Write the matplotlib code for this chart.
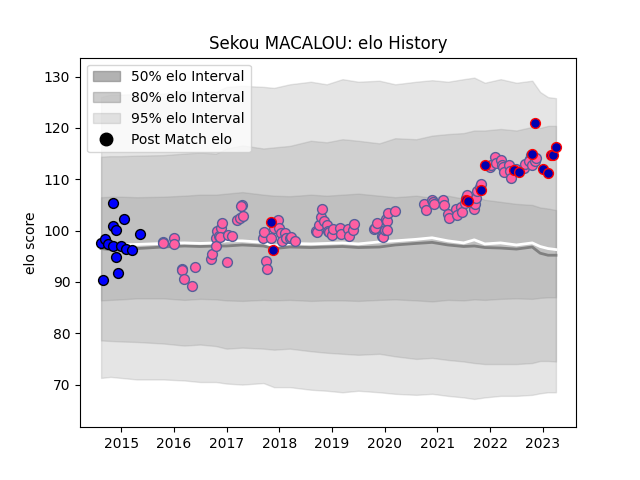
import matplotlib
matplotlib.use("Agg")
import matplotlib.pyplot as plt
import numpy as np
from matplotlib.patches import Patch
from matplotlib.lines import Line2D

# band / line time grid (decimal years)
band_t = [2014.62, 2014.8, 2015.0, 2015.3, 2015.8, 2016.2, 2016.5, 2016.8, 2017.0, 2017.3, 2017.7,
          2017.9, 2018.2, 2018.6, 2018.9, 2019.2, 2019.5, 2019.9, 2020.2, 2020.6, 2020.9, 2021.2,
          2021.5, 2021.7, 2021.9, 2022.2, 2022.5, 2022.8, 2022.95, 2023.1, 2023.25]
mean_line = [97.6, 97.3, 97.2, 97.3, 97.5, 97.6, 97.5, 97.6, 98.0, 98.0, 97.7,
             97.0, 97.5, 97.4, 97.5, 97.6, 97.4, 97.8, 98.0, 98.3, 98.6, 98.0,
             97.6, 98.2, 97.4, 97.6, 97.2, 97.6, 96.9, 96.5, 96.3]
median_line = [96.5, 96.3, 96.2, 96.5, 96.8, 97.0, 96.9, 97.0, 97.0, 97.2, 97.0,
               96.5, 96.8, 96.7, 96.8, 96.9, 96.7, 96.8, 97.2, 97.5, 97.7, 97.2,
               96.9, 97.0, 96.7, 96.6, 96.4, 96.8, 95.6, 95.2, 95.2]
hi50 = [106.5, 106.6, 106.6, 106.5, 106.6, 106.8, 107.0, 107.0, 107.2, 107.5, 107.0,
        106.8, 106.7, 107.0, 106.8, 107.0, 107.2, 106.8, 106.5, 106.8, 106.4, 106.8,
        106.2, 106.8, 106.0, 105.6, 105.2, 105.0, 104.5, 104.3, 104.0]
lo50 = [86.4, 86.5, 86.6, 86.8, 86.8, 86.5, 86.7, 86.6, 86.4, 86.3, 86.5,
        86.4, 86.5, 86.3, 86.4, 86.4, 86.3, 86.5, 86.6, 86.4, 86.2, 86.5,
        86.4, 86.6, 86.5, 86.7, 86.8, 86.7, 86.9, 87.0, 87.0]
hi80 = [114.4, 114.5, 114.5, 114.6, 114.7, 115.0, 115.2, 115.0, 116.0, 116.6, 116.0,
        116.2, 116.5, 117.5, 117.2, 117.8, 117.5, 117.0, 118.0, 117.8, 118.5, 118.8,
        119.0, 119.5, 119.5, 119.8, 119.5, 120.2, 120.0, 120.4, 120.4]
lo80 = [78.6, 78.5, 78.4, 78.3, 78.0, 77.6, 77.8, 77.5, 77.0, 77.2, 77.0,
        76.8, 77.0, 76.5, 76.2, 76.0, 75.8, 76.0, 75.5, 75.0, 75.2, 74.8,
        74.5, 74.2, 74.0, 74.0, 74.0, 74.2, 74.6, 74.6, 74.5]
hi95 = [126.0, 126.5, 126.5, 126.6, 126.7, 127.0, 127.3, 127.0, 128.0, 128.2, 128.0,
        127.8, 128.5, 129.0, 128.5, 129.5, 129.0, 129.2, 128.5, 129.0, 129.3, 129.0,
        129.5, 129.8, 128.8, 129.5, 128.8, 129.2, 127.0, 126.0, 125.8]
lo95 = [71.3, 71.5, 71.3, 71.0, 71.0, 70.8, 70.5, 70.5, 70.2, 70.0, 70.3,
        69.5, 69.5, 69.0, 68.8, 68.5, 68.8, 68.5, 68.2, 68.0, 68.2, 67.8,
        67.5, 67.2, 67.5, 67.8, 67.8, 68.0, 68.3, 68.5, 68.5]

# post match elo points
early_t = [2014.62, 2014.65, 2014.7, 2014.75, 2014.85, 2014.85, 2014.9, 2014.85, 2014.9, 2014.95,
           2015.0, 2015.05, 2015.1, 2015.2, 2015.35]
early_elo = [97.5, 90.4, 98.3, 97.3, 105.3, 100.8, 100.2, 97.0, 94.8, 91.8,
             97.0, 102.3, 96.5, 96.2, 99.4]

pink_t = [2015.8, 2015.8, 2016.0, 2016.0, 2016.15, 2016.15, 2016.2, 2016.35, 2016.4,
          2016.7, 2016.72, 2016.8, 2016.8, 2016.82, 2016.85, 2016.9, 2016.92, 2016.88, 2017.0, 2017.02, 2017.1,
          2017.2, 2017.25, 2017.3, 2017.32, 2017.28, 2017.7, 2017.72, 2017.74, 2017.76,
          2017.85, 2017.9, 2017.95, 2017.98, 2018.0, 2018.03, 2018.05, 2018.1, 2018.12, 2018.2, 2018.22, 2018.3,
          2018.7, 2018.72, 2018.75, 2018.8, 2018.82, 2018.85, 2018.9, 2018.92, 2018.95, 2019.0, 2019.02,
          2019.15, 2019.17, 2019.3, 2019.32, 2019.4, 2019.42,
          2019.8, 2019.82, 2019.85, 2019.95, 2019.97, 2020.0, 2020.02, 2020.04, 2020.05, 2020.07, 2020.2,
          2020.75, 2020.78, 2020.9, 2020.92, 2020.94, 2021.1, 2021.12, 2021.2, 2021.22, 2021.35, 2021.37,
          2021.45, 2021.47, 2021.55, 2021.57, 2021.53, 2021.7, 2021.72, 2021.74, 2021.76, 2021.8, 2021.82,
          2022.0, 2022.02, 2022.1, 2022.12, 2022.2, 2022.22, 2022.24, 2022.26, 2022.35, 2022.37, 2022.39,
          2022.5, 2022.65, 2022.67, 2022.75, 2022.77, 2022.73, 2022.79, 2022.85, 2022.87]
pink_elo = [97.8, 97.5, 98.5, 97.4, 92.5, 92.3, 90.6, 89.3, 93.0,
            94.5, 95.5, 98.5, 97.0, 100.0, 99.0, 100.5, 101.5, 98.8, 93.8, 99.2, 99.0,
            102.0, 102.5, 105.0, 102.8, 104.8, 98.5, 99.8, 94.0, 92.6,
            98.5, 100.6, 101.7, 102.0, 100.5, 99.5, 98.0, 99.5, 98.5, 98.5, 98.7, 98.0,
            100.0, 99.8, 101.0, 102.7, 104.3, 101.9, 101.0, 100.0, 99.7, 99.2, 100.3,
            100.5, 99.4, 100.4, 98.9, 100.2, 101.2,
            100.3, 100.6, 101.5, 99.0, 98.8, 100.1, 102.2, 101.8, 100.1, 103.5, 103.8,
            105.2, 104.0, 106.0, 105.5, 105.2, 106.0, 105.0, 103.3, 102.5, 104.2, 103.0,
            104.5, 103.6, 106.3, 107.0, 105.3, 104.3, 105.2, 106.3, 107.8, 108.5, 109.0,
            112.3, 112.8, 114.4, 113.2, 113.7, 112.8, 112.3, 111.5, 112.8, 111.7, 110.3,
            112.0, 112.2, 113.0, 114.0, 114.8, 113.5, 112.8, 113.5, 114.2]

red_t = [2017.85, 2017.88, 2021.55, 2021.58, 2021.82, 2021.9, 2022.45, 2022.55, 2022.8,
         2022.85, 2023.0, 2023.1, 2023.15, 2023.2, 2023.25]
red_elo = [101.6, 96.2, 106.0, 105.7, 108.0, 112.8, 111.8, 111.4, 115.0,
           120.9, 112.0, 111.3, 114.7, 114.7, 116.2]

fig, ax = plt.subplots(figsize=(6.4, 4.8), dpi=100)

ax.fill_between(band_t, lo95, hi95, color='gray', alpha=0.2, linewidth=1)
ax.fill_between(band_t, lo80, hi80, color='gray', alpha=0.2, linewidth=1)
ax.fill_between(band_t, lo50, hi50, color='gray', alpha=0.2, linewidth=1)
ax.plot(band_t, median_line, color='gray', lw=2)
ax.plot(band_t, mean_line, color='white', lw=2)

ax.scatter(early_t, early_elo, s=50, c='blue', edgecolors='black', zorder=3)
ax.scatter(pink_t, pink_elo, s=50, c='#ff5fa2', edgecolors='#55609a', zorder=3)
ax.scatter(red_t, red_elo, s=50, c='#0000b0', edgecolors='red', zorder=4)

ax.set_xlim(2014.22, 2023.63)
ax.set_ylim(61.7, 133.7)
ax.set_xticks(range(2015, 2024))
ax.set_xticklabels([str(y) for y in range(2015, 2024)])
ax.set_ylabel('elo score')
ax.set_title('Sekou MACALOU: elo History')

handles = [Patch(color='gray', alpha=0.6, label='50% elo Interval'),
           Patch(color='gray', alpha=0.4, label='80% elo Interval'),
           Patch(color='gray', alpha=0.2, label='95% elo Interval'),
           Line2D([], [], ls='', marker='o', color='black', markersize=9, label='Post Match elo')]
ax.legend(handles=handles, loc='upper left')

fig.savefig('out.png')
